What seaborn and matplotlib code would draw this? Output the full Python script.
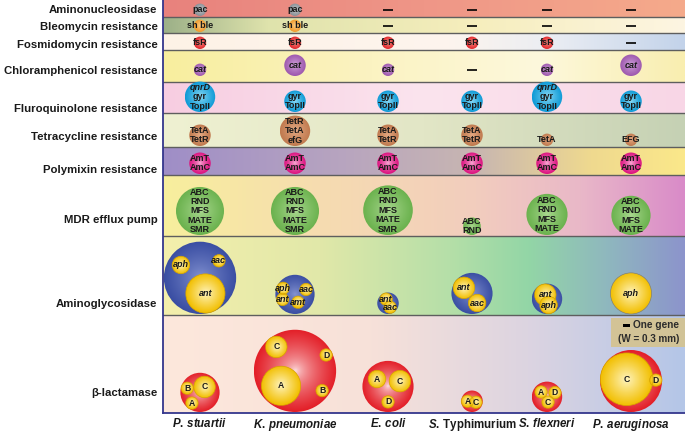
import numpy as np
import pandas as pd
import seaborn as sns
import matplotlib.pyplot as plt
from matplotlib.patches import Circle, Rectangle
from matplotlib.colors import to_rgb

species = ["P. stuartii", "K. pneumoniae", "E. coli", "S. Typhimurium", "S. flexneri", "P. aeruginosa"]
families = ["Aminonucleosidase", "Bleomycin resistance", "Fosmidomycin resistance",
            "Chloramphenicol resistance", "Fluroquinolone resistance", "Tetracycline resistance",
            "Polymixin resistance", "MDR efflux pump", "Aminoglycosidase", "β-lactamase"]

# number of genes per family and species (0 = none, drawn as a dash)
pac_n = [1, 1, 0, 0, 0, 0]
ble_n = [1, 1, 0, 0, 0, 0]
fsr_n = [1, 1, 1, 1, 1, 0]
cat_n = [1, 3, 1, 0, 1, 3]
quin_n = [6, 3, 3, 3, 6, 3]
tet_n = [3, 6, 3, 3, 1, 1]
poly_n = [3, 3, 3, 3, 3, 3]
mdr_n = [15, 15, 16, 2, 11, 10]
amino_n = [34, 10, 3, 11, 6, 11]
blac_n = [10, 44, 17, 3, 6, 25]

# gene names written in the circles
pac_txt = ["pac"] * 6
ble_txt = ["sh ble"] * 6
fsr_txt = ["fsR"] * 6
cat_txt = ["cat"] * 6
quin_txt = ["qnrD\ngyr\nTopII", "gyr\nTopII", "gyr\nTopII", "gyr\nTopII", "qnrD\ngyr\nTopII", "gyr\nTopII"]
tet_txt = ["TetA\nTetR", "TetR\nTetA\nefG", "TetA\nTetR", "TetA\nTetR", "TetA", "EFG"]
poly_txt = ["AmT\nAmC"] * 6
mdr_txt = ["ABC\nRND\nMFS\nMATE\nSMR"] * 3 + ["ABC\nRND", "ABC\nRND\nMFS\nMATE", "ABC\nRND\nMFS\nMATE"]

# sub-families inside the big circles: (name, genes)
amino_sub = [[("ant", 10), ("aph", 2), ("aac", 1)],
             [("aph", 1), ("aac", 1), ("ant", 1), ("amt", 1)],
             [("ant", 1), ("aac", 1)],
             [("ant", 3), ("aac", 2)],
             [("ant", 3), ("aph", 2)],
             [("aph", 11)]]
blac_sub = [[("C", 3), ("B", 1), ("A", 1)],
            [("A", 10), ("C", 3), ("D", 1), ("B", 1)],
            [("A", 2), ("C", 3), ("D", 1)],
            [("A", 1), ("C", 1)],
            [("A", 1), ("D", 1), ("C", 1)],
            [("C", 18), ("D", 1)]]

# ---- layout (pixel units) ----
R1 = 6.2                      # radius of a one-gene circle
X0, X1 = 163, 685
col_x = [200, 295, 388, 472, 547, 631]
row_h = [17, 16, 17, 32, 31, 34, 28, 61, 79, 98]
row_pad = [1, 1, 1, 6, 1, 1, 1, 1, 1, 1]
label_lift = [8, 7, 6, 12, 5, 11, 6, 17, 12, 21]
# sub circle spots: (angle in deg, y down; share of the free room to the rim)
amino_spot = [[(71, 1), (214, .84), (-42, .85)],
              [(207, 1), (-24, .9), (158, 1), (69, .63)],
              [(-115, 1), (62, 1)],
              [(-145, 1), (62, .92)],
              [(-113, 1), (76, 1)],
              [(0, 0)]]
blac_spot = [[(-50, .8), (198, 1), (127, 1)],
             [(133, .95), (232, 1), (-27, 1), (36, .96)],
             [(214, .79), (-24, .88), (90, .8)],
             [(180, 1), (14, .9)],
             [(219, .85), (-28, 1), (79, .6)],
             [(202, 1), (-2, 1)]]

bg_stops = [
    [(0, "#e8827d"), (0.5, "#ef9687"), (1, "#f5aa8b")],
    [(0, "#9cb088"), (0.2, "#dfe3ac"), (0.6, "#f6eebd"), (1, "#fdf5e2")],
    [(0, "#fdf2e6"), (0.55, "#fdf5ee"), (0.75, "#eaedf3"), (1, "#c3d3ea")],
    [(0, "#f8ee9e"), (0.4, "#fbf3c2"), (0.72, "#fdf8dc"), (1, "#f9eeb0")],
    [(0, "#f7cde1"), (0.5, "#fbe4ee"), (1, "#f8d6e6")],
    [(0, "#eff1d2"), (0.5, "#e2e6c6"), (1, "#c5d1b4")],
    [(0, "#9f8ec7"), (0.35, "#b8a5bf"), (0.6, "#c8b6b1"), (0.82, "#efd98f"), (1, "#fbe88a")],
    [(0, "#f8ef9d"), (0.3, "#f6dcb0"), (0.6, "#f2cdbe"), (0.8, "#e9b8c8"), (1, "#d98bc9")],
    [(0, "#f4efac"), (0.3, "#e1e8a9"), (0.55, "#b5dfa8"), (0.7, "#93d6a6"), (0.85, "#8fb8be"), (1, "#8c94cc")],
    [(0, "#fde8dc"), (0.4, "#f7e1d9"), (0.7, "#dcd4e1"), (1, "#b4c6e8")],
]
# circle colour per row: (rim, centre, falloff)
ball_col = [("#8a9096", "#c9cdd0", 0.8), ("#f19a2c", "#ffd38f", 0.8), ("#e2262b", "#f99a8e", 0.8),
            ("#9e58ae", "#d3a6dc", 0.8), ("#0e9ad6", "#93ddf7", 0.75), ("#c07a4f", "#e6ac86", 0.8),
            ("#dc127f", "#fbc2e0", 0.6), ("#6bb24e", "#acd992", 0.8), ("#3a4ea3", "#8796d3", 0.75),
            ("#e31f28", "#fff0f0", 0.55)]
yellow = ("#f2bf00", "#fff5c2", 0.9)
italic_names = {"qnrD", "cat", "aph", "aac", "ant", "amt"}
ink = "#1a1a1a"

sns.set_theme(style="white")
plt.rcParams["font.family"] = ["Liberation Sans", "DejaVu Sans"]
plt.rcParams["mathtext.fontset"] = "custom"
plt.rcParams["mathtext.it"] = "Liberation Sans:italic:bold"
plt.rcParams["mathtext.rm"] = "Liberation Sans:bold"

fig = plt.figure(figsize=(6.85, 4.34), dpi=100)
ax = fig.add_axes([X0 / 685, 21 / 434, (X1 - X0) / 685, 413 / 434])

bottoms = np.cumsum(row_h)
tops = bottoms - np.array(row_h)


def hgrad(top, bot, stops):
    pos = [p for p, _ in stops]
    cols = np.array([to_rgb(c) for _, c in stops])
    t = np.linspace(0, 1, 300)
    img = np.stack([np.interp(t, pos, cols[:, k]) for k in range(3)], axis=-1)[None, :, :]
    ax.imshow(img, extent=(X0, X1, bot, top), aspect="auto", zorder=0, interpolation="bilinear")


def ball(x, y, r, style, z, outline=None):
    rim, mid, p = style
    g = np.linspace(-1, 1, 64)
    gx, gy = np.meshgrid(g, g)
    d = np.clip(np.hypot(gx, gy), 0, 1) ** p
    c0, c1 = np.array(to_rgb(mid)), np.array(to_rgb(rim))
    img = c0 * (1 - d[..., None]) + c1 * d[..., None]
    im = ax.imshow(img, extent=(x - r, x + r, y + r, y - r), zorder=z, interpolation="bilinear")
    circ = Circle((x, y), r, facecolor="none", edgecolor=outline if outline else "none",
                  lw=0.5, zorder=z + 0.01)
    ax.add_patch(circ)
    im.set_clip_path(circ)


def label(x, y, txt, size=6.5, step=9.4):
    lines = txt.split("\n")
    m = len(lines)
    for k, ln in enumerate(lines):
        ax.text(x, y + (k - (m - 1) / 2) * step, ln, ha="center", va="center", fontsize=size,
                fontweight="bold", fontstyle="italic" if ln in italic_names else "normal",
                color=ink, zorder=8)


for i in range(len(families)):
    hgrad(tops[i], bottoms[i], bg_stops[i])
for b in bottoms[:-1]:
    ax.axhline(b, color="#5e5e5e", lw=1.0, zorder=1)

simple_rows = [(pac_n, pac_txt), (ble_n, ble_txt), (fsr_n, fsr_txt), (cat_n, cat_txt),
               (quin_n, quin_txt), (tet_n, tet_txt), (poly_n, poly_txt), (mdr_n, mdr_txt)]
dash_x, dash_y = [], []
for i, (counts, texts) in enumerate(simple_rows):
    for j, n in enumerate(counts):
        if n == 0:
            dash_x.append(col_x[j])
            dash_y.append(bottoms[i] - row_pad[i] - R1)
            continue
        r = R1 * np.sqrt(n)
        cy = bottoms[i] - row_pad[i] - r
        ball(col_x[j], cy, r, ball_col[i], 3)
        label(col_x[j], cy, texts[j])

dashes = pd.DataFrame({"x": dash_x, "y": dash_y})
sns.scatterplot(data=dashes, x="x", y="y", marker="_", s=45, color="black", linewidth=1.2,
                ax=ax, zorder=6, legend=False)

nested = [(8, amino_n, amino_sub, amino_spot), (9, blac_n, blac_sub, blac_spot)]
for i, counts, subs, spots in nested:
    for j, n in enumerate(counts):
        R = R1 * np.sqrt(n)
        cx, cy = col_x[j], bottoms[i] - row_pad[i] - R
        ball(cx, cy, R, ball_col[i], 3)
        for (name, k), (ang, share) in zip(subs[j], spots[j]):
            r = R1 * np.sqrt(k)
            d = max(R - r, 0) * share
            sx = cx + d * np.cos(np.radians(ang))
            sy = cy + d * np.sin(np.radians(ang))
            edge = "#8a8a7a" if r >= R else "#d6a400"
            ball(sx, sy, r, yellow, 4, outline=edge)
            label(sx, sy, name, size=6.5 if i == 8 else 6.2)

# legend box
ax.add_patch(Rectangle((611, 318), 74, 29, facecolor="#d5c38e", edgecolor="none", alpha=0.9, zorder=6))
ax.add_patch(Rectangle((623, 324), 7, 2.6, facecolor="black", edgecolor="none", zorder=7))
ax.text(633, 325, "One gene", fontsize=7.3, fontweight="bold", color="#2b2b2b", va="center", zorder=7)
ax.text(649, 339, "(W = 0.3 mm)", fontsize=7.1, fontweight="bold", color="#2b2b2b",
        ha="center", va="center", zorder=7)

# axes, ticks and labels
ax.set_xlim(X0, X1)
ax.set_ylim(bottoms[-1], 0)
ax.set_aspect("auto")
ax.set_yticks(bottoms - np.array(label_lift), families)

# genus always italic; serovar names (capitalised) stay upright
ax.set_xticks(col_x, [r"$\mathit{" + s.split(" ", 1)[0] + r"}\,$" + s.split(" ", 1)[1] for s in species])
ax.tick_params(axis="y", length=0, pad=4, labelsize=8.2, labelcolor=ink)
ax.tick_params(axis="x", length=0, pad=3, labelsize=8.3, labelcolor=ink)
for t in ax.get_yticklabels():
    t.set_fontweight("bold")
for t, s in zip(ax.get_xticklabels(), species):
    t.set_fontweight("bold")
    t.set_fontstyle("normal" if s.split(" ", 1)[1][0].isupper() else "italic")
ax.set_xlabel("")
ax.set_ylabel("")
sns.despine(ax=ax, top=True, right=True)
for s in ["left", "bottom"]:
    ax.spines[s].set_color("#34368c")
    ax.spines[s].set_linewidth(1.3)
    ax.spines[s].set_zorder(9)
ax.grid(False)

fig.savefig("out.png", dpi=100)
